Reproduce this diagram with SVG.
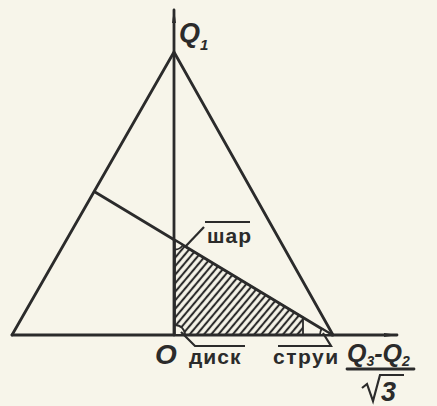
<svg xmlns="http://www.w3.org/2000/svg" width="437" height="406" viewBox="0 0 437 406">
<style>
.ln{stroke:#2b2b2b;stroke-width:2.8;fill:none;stroke-linecap:round;stroke-linejoin:round}
.thin{stroke:#2b2b2b;stroke-width:2.2;fill:none}
.mk{stroke:#2b2b2b;stroke-width:1.8;fill:#f7f5ea}
.lbl{font-family:"Liberation Sans","DejaVu Sans",sans-serif;font-weight:bold;fill:#2b2b2b}
.it{font-family:"Liberation Sans","DejaVu Sans",sans-serif;font-weight:bold;font-style:italic;fill:#2b2b2b}
</style>
<defs>
<pattern id="hatch" width="5.5" height="5.5" patternUnits="userSpaceOnUse" patternTransform="rotate(40)">
<line x1="2.75" y1="-1" x2="2.75" y2="7" stroke="#2b2b2b" stroke-width="2.1"/>
</pattern>
<marker id="arr" viewBox="0 0 14 6" refX="13" refY="3" markerWidth="14" markerHeight="6" markerUnits="userSpaceOnUse" orient="auto">
<path d="M0,1 L14,3 L0,5 Z" fill="#2b2b2b"/>
</marker>
</defs>
<rect width="437" height="406" fill="#f7f5ea"/>
<g id="region">
<path d="M175,240.5 L175,335 L303,335 L303,317.5 Z" fill="url(#hatch)" stroke="#2b2b2b" stroke-width="1.8"/>
</g>
<g id="connectors">
<line class="ln" x1="174" y1="335" x2="174" y2="10" marker-end="url(#arr)"/>
<line class="ln" x1="12" y1="335" x2="397" y2="335" marker-end="url(#arr)"/>
<path class="ln" d="M12,335 L174,52 L333,335"/>
<line class="ln" x1="95" y1="192" x2="332" y2="335"/>
</g>
<g id="marks">
<path class="mk" d="M175,240.5 L182.7,245.1 A9,9 0 0,1 175,249.5 Z"/>
<path class="mk" d="M175,335 L175,325 A10,10 0 0,1 185,335 Z"/>
<path class="mk" d="M332,335 L320,335 A12,12 0 0,1 321.7,328.8 Z"/>
</g>
<g id="label-shar">
<line class="thin" x1="205" y1="222" x2="250" y2="222"/>
<line class="thin" x1="204" y1="227" x2="185" y2="247"/>
<text class="lbl" x="207" y="243" font-size="21" letter-spacing="1">шар</text>
</g>
<g id="label-disk">
<polyline class="thin" points="181,332 195,346 245,346"/>
<text class="lbl" x="189" y="364" font-size="21" letter-spacing="1">диск</text>
</g>
<g id="label-strui">
<polyline class="thin" points="278,346 331,346 323,333"/>
<text class="lbl" x="273" y="364" font-size="21" letter-spacing="1.5">струи</text>
</g>
<g id="label-O">
<text class="it" x="155" y="364" font-size="28">O</text>
</g>
<g id="label-Q1">
<text class="it" x="179" y="42" font-size="27">Q<tspan font-size="15" dy="8">1</tspan></text>
</g>
<g id="label-frac">
<text class="it" x="347" y="362" font-size="25">Q<tspan font-size="14" dy="4">3</tspan><tspan dy="-4">-</tspan>Q<tspan font-size="14" dy="4">2</tspan></text>
<line class="ln" x1="347" y1="369" x2="414" y2="369"/>
<path class="thin" d="M362,388 L367,384 L373,401 L380,375 L404,375"/>
<text class="it" x="381" y="401" font-size="27">3</text>
</g>
</svg>
